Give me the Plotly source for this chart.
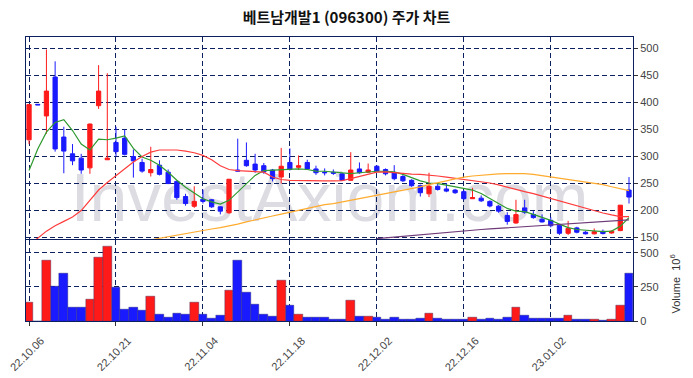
import plotly.graph_objects as go
from plotly.subplots import make_subplots

title_text = "<b>베트남개발1 (096300) 주가 차트</b>"
tick_idx = [0, 10, 20, 30, 40, 50, 60]
tick_labels = ["22.10.06", "22.10.21", "22.11.04", "22.11.18", "22.12.02", "22.12.16", "23.01.02"]

opens = [331, 396.5, 375, 447, 336, 305, 297, 279, 394, 294,
         326, 334, 300, 289, 270, 284, 271, 254, 226, 208,
         221, 220, 207, 196, 275, 293, 286, 283, 275, 262,
         289, 280, 289, 277, 271, 271, 268, 256, 277, 271,
         282, 276, 270, 263, 256, 246, 231, 245, 240, 238,
         235, 222, 223, 217, 208, 191, 177, 205, 193, 184,
         182, 173, 158, 168, 160, 157, 161.6, 158.5, 163, 238]
highs = [397, 396.5, 498, 476, 355, 323, 305, 361, 469, 454,
         355, 350, 313, 296, 318, 293, 276, 256, 231, 245,
         239, 221, 208, 258, 333, 326, 305, 288, 277, 316,
         315, 302, 294, 283, 278, 276, 270, 308, 289, 287,
         284, 278, 284, 266, 258, 248, 270, 251, 251, 240,
         238, 242, 228, 219, 210, 197, 220, 220, 199, 193,
         188, 175, 181, 170, 162, 167, 165, 163, 210, 262]
lows = [323, 395.5, 342, 309, 269, 284, 268, 268, 388, 294,
        300, 302, 261, 270, 263, 265, 249, 220, 209, 205,
        213, 205, 193, 194, 272, 281, 270, 268, 254, 250,
        274, 275, 275, 266, 265, 266, 255, 255, 268, 270,
        271, 265, 256, 253, 244, 226, 225, 237, 234, 231,
        220, 222, 216, 206, 196, 174, 176, 194, 185, 178,
        169, 155, 155, 158, 156, 156, 156, 157.5, 162, 213]
closes = [396, 395.5, 421, 314, 310, 292, 275, 360, 421, 297,
          309, 304, 292, 273, 276, 267, 250, 224, 213, 217,
          217, 207, 199, 258, 273, 283, 275, 271.5, 259, 282,
          276, 283, 277, 270, 270, 269, 256, 275, 270, 275,
          273, 268, 259, 255, 246, 233, 245, 239, 236, 233,
          222, 224, 218, 208.5, 199, 180, 192.6, 197, 187, 179,
          172, 158, 167, 160, 157, 161, 157.5, 162, 210, 225]
volumes = [134, 0, 443, 257, 346, 102, 102, 161, 465, 549,
           245, 87, 102, 79, 183, 50, 27, 57, 50, 134,
           50, 20, 42, 228, 443, 213, 124, 50, 35, 295,
           116, 50, 27, 27, 27, 13, 13, 154, 35, 35,
           27, 13, 27, 13, 13, 20, 57, 20, 13, 13,
           13, 27, 13, 20, 13, 27, 102, 42, 20, 20,
           20, 20, 42, 13, 13, 13, 5, 13, 116, 346]

ma5 = [274, 314, 345, 363, 368, 348, 323, 312, 332, 331,
       334, 338, 315, 299, 293, 284, 271, 256, 243, 232,
       222, 216, 212, 219, 234, 250, 265, 274, 275, 276,
       277, 277, 276, 273, 272.7, 271.5, 270, 268.5, 270, 271.5,
       272.7, 272.7, 271.5, 267, 261, 255, 251, 250, 247, 244,
       241, 238, 231.5, 222, 213, 204, 199, 198, 193, 188,
       182, 175, 168.5, 165, 163.5, 162, 161, 162, 171, 187]
ma20 = [138, 149, 162, 172, 180, 188, 200, 218, 238, 252,
        265, 277, 290, 300, 308, 312, 312.5, 312, 310, 307,
        302, 294, 283, 276, 274, 273, 272.5, 271, 262, 257.5,
        256, 255.5, 255.5, 255, 255, 255, 255.5, 259, 263, 267,
        271, 271.5, 270, 268.5, 267.5, 267, 266, 264, 262, 260,
        258, 256, 253.5, 251, 247.5, 243, 239, 235, 231.5, 227,
        222, 217, 213, 208, 204, 199, 195.5, 192, 189, 189]
ma60_x = list(range(14, 70))
ma60 = [146, 149, 151.5, 154, 157, 160, 163, 166, 168.5, 171.5,
        175, 179, 183, 186.5, 190, 193.5, 197, 201, 204.5, 208,
        211, 213, 216, 219, 222, 225, 228, 231, 234, 237,
        240, 244, 248, 251, 255, 258.5, 262, 264, 265.5, 267,
        268, 268.5, 268.5, 268.5, 267, 264.5, 262, 259.5, 257, 255,
        252.5, 250, 248, 244, 240, 237]
ma120_x = list(range(40, 70))
ma120 = [148, 149.5, 151, 152.5, 154, 155.5, 157, 158.5, 160, 161.5,
         163, 164, 165, 166, 167, 168, 169, 170, 171, 172,
         173, 174, 175, 176, 177, 178, 179, 180.5, 181.5, 183]

x = list(range(len(closes)))
RED = "#ff1a1a"
BLUE = "#1a1aff"
GRID = "#0c1f5e"
vol_colors = [RED if c > o else BLUE for o, c in zip(opens, closes)]

fig = make_subplots(rows=2, cols=1, shared_xaxes=True, vertical_spacing=0.004,
                    row_heights=[0.715, 0.285])

fig.add_trace(go.Candlestick(
    x=x, open=opens, high=highs, low=lows, close=closes,
    increasing=dict(line=dict(color=RED, width=1), fillcolor=RED),
    decreasing=dict(line=dict(color=BLUE, width=1), fillcolor=BLUE),
    whiskerwidth=0, showlegend=False), row=1, col=1)

fig.add_trace(go.Scatter(x=x, y=ma5, mode="lines", line=dict(color="#2e9a2e", width=1.2),
                         showlegend=False), row=1, col=1)
fig.add_trace(go.Scatter(x=x, y=ma20, mode="lines", line=dict(color="#ff3c3c", width=1.2),
                         showlegend=False), row=1, col=1)
fig.add_trace(go.Scatter(x=ma60_x, y=ma60, mode="lines", line=dict(color="#ffab2e", width=1.2),
                         showlegend=False), row=1, col=1)
fig.add_trace(go.Scatter(x=ma120_x, y=ma120, mode="lines", line=dict(color="#6e3a78", width=1.2),
                         showlegend=False), row=1, col=1)

fig.add_trace(go.Bar(x=x, y=volumes, marker=dict(color=vol_colors, line=dict(color="#333366", width=0.4)),
                     showlegend=False), row=2, col=1)

axis_common = dict(showline=True, linecolor=GRID, linewidth=1, mirror=True,
                   showgrid=True, gridcolor=GRID, griddash="5px,3px", gridwidth=1,
                   zeroline=False, automargin=False)

fig.update_xaxes(range=[-0.35, 69.46], tickmode="array", tickvals=tick_idx, ticktext=tick_labels,
                 rangeslider=dict(visible=False), **axis_common)
fig.update_xaxes(showticklabels=False, ticks="", row=1, col=1)
fig.update_xaxes(showticklabels=True, ticks="outside", ticklen=4, tickcolor="#333",
                 tickangle=-45, ticklabelshift=12, ticklabelstandoff=4, ticklabeloverflow="allow",
                 tickfont=dict(family="Liberation Sans, Arial", size=11, color="#444"),
                 row=2, col=1)

fig.update_yaxes(side="right", ticks="outside", ticklen=4, tickcolor="#333",
                 tickfont=dict(family="Liberation Sans, Arial", size=11, color="#444"), **axis_common)
fig.update_yaxes(range=[147, 521], tickvals=[150, 200, 250, 300, 350, 400, 450, 500], row=1, col=1)
fig.update_yaxes(range=[0, 591], tickvals=[0, 250, 500], row=2, col=1)

fig.update_layout(
    width=693, height=378,
    margin=dict(l=26, r=60, t=37, b=57, autoexpand=False),
    paper_bgcolor="white", plot_bgcolor="white",
    bargap=0,
    title=dict(text=title_text, x=0.5, xanchor="center", y=0.952, yanchor="middle",
               font=dict(family="Noto Sans CJK KR", size=15, color="#111")),
    shapes=[dict(type="rect", xref="paper", yref="paper", x0=0, x1=1, y0=0.358, y1=0.558,
                 line=dict(width=0), fillcolor="rgba(0,0,0,0)", layer="below",
                 label=dict(text="InvestAxiom.com", textposition="middle center",
                            font=dict(family="Liberation Sans, Arial", size=68,
                                      color="#dcdce2")))],
    annotations=[dict(text="Volume  10<sup>6</sup>", textangle=-90, xref="paper", yref="paper",
                      x=1.07, y=0.13, xanchor="center", yanchor="middle", showarrow=False,
                      font=dict(family="Liberation Sans, Arial", size=11, color="#333"))],
)

fig.write_html("out.html", config={"displayModeBar": False},
               post_script="document.body.style.margin='0';document.body.style.overflow='hidden';")
